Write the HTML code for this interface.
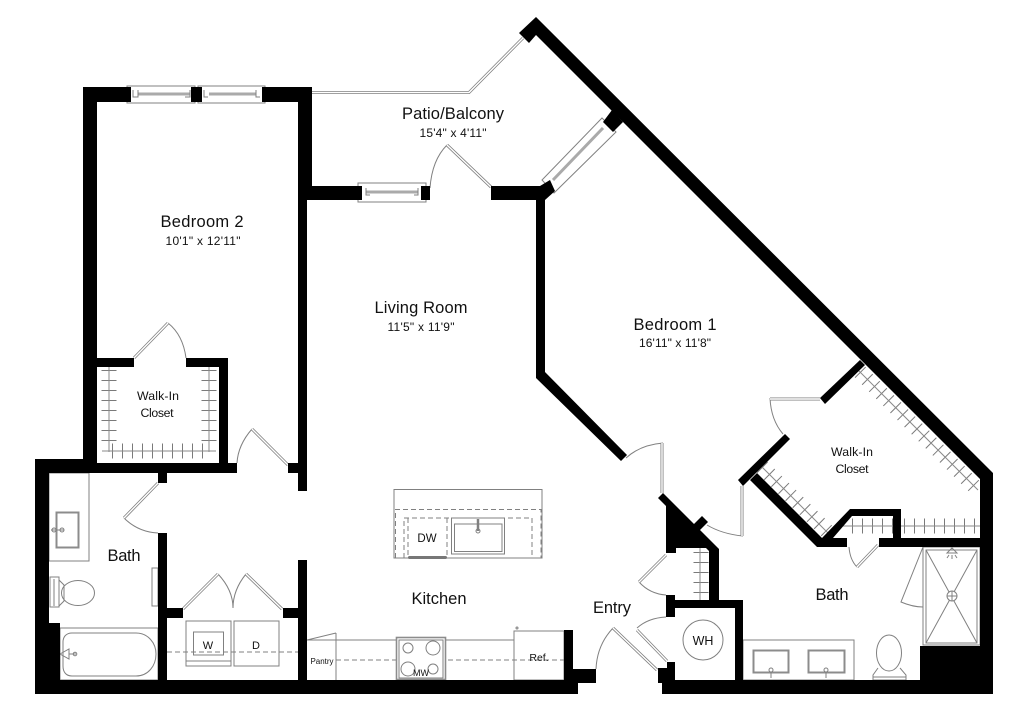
<!DOCTYPE html>
<html><head><meta charset="utf-8"><style>
html,body{margin:0;padding:0;background:#fff;width:1024px;height:714px;overflow:hidden}
svg{display:block}
text{font-family:"Liberation Sans",sans-serif;fill:#111;text-anchor:middle}
.t{stroke:#808080;stroke-width:1;fill:none}
.w{fill:#fff;stroke:#808080;stroke-width:1}
.d{stroke:#808080;stroke-width:1;fill:none;stroke-dasharray:5 3}
.r{stroke:#8a8a8a;stroke-width:1;fill:none}
.k{stroke:#7a7a7a;stroke-width:15;fill:none;stroke-dasharray:1 9}
.l1{stroke:#808080;stroke-width:3;fill:none}
.l2{stroke:#fff;stroke-width:1.4;fill:none}
</style></head><body>
<svg width="1024" height="714" viewBox="0 0 1024 714" xmlns="http://www.w3.org/2000/svg">
<rect width="1024" height="714" fill="#fff"/>

<!-- closet hangers -->
<path class="k" d="M109 370V450"/><path class="r" d="M109 367V452"/>
<path class="k" d="M209 370V450"/><path class="r" d="M209 367V452"/>
<path class="k" d="M112 451H208"/><path class="r" d="M102 451H216"/>
<path class="k" d="M860 372L978 490"/><path class="r" d="M858 370L978 490"/>
<path class="k" d="M762 467L830 534"/><path class="r" d="M760 465L831 536"/>
<path class="k" d="M904 526H980"/><path class="r" d="M901 526H980"/>
<path class="k" d="M852 526H893"/><path class="r" d="M838 526H893"/>
<path class="k" d="M701 552V600"/><path class="r" d="M700 548V600"/>

<!-- fixtures: bath left -->
<rect class="t" x="49" y="473" width="40" height="88"/>
<rect x="56.500" y="512.500" width="22" height="35" fill="none" stroke="#8c8c8c" stroke-width="2"/>
<path class="t" d="M51 530H64"/><circle class="t" cx="54" cy="530" r="2"/><circle class="t" cx="62" cy="530" r="2"/>
<ellipse class="t" cx="78" cy="593" rx="16.500" ry="12.500"/>
<rect class="t" x="50" y="577" width="9" height="30"/><path class="t" d="M59 580L64 585V601L59 606M54 579V606"/>
<rect x="152" y="568" width="6" height="38" class="w"/>
<rect class="t" x="60" y="628" width="98" height="52"/>
<path class="t" d="M72 633H136C148 633 156 643 156 654C156 666 148 676 136 676H72C66 676 63 672 63 666V642C63 637 66 633 72 633Z"/>
<path class="t" d="M60 654L69 649V659ZM69 654H76"/><circle class="t" cx="75" cy="654" r="1.800"/>

<!-- laundry -->
<rect class="t" x="186" y="621" width="45" height="45"/><rect class="t" x="193.500" y="632" width="30" height="23"/><path class="t" d="M186 661H231"/>
<rect class="t" x="234" y="621" width="45" height="45"/>
<path class="d" d="M167 652H298"/>

<!-- kitchen -->
<path class="t" d="M307 640H514M336 633V680M307 640L336 633"/>
<path class="d" d="M336 660H564"/>
<rect class="t" x="514" y="631" width="50" height="49"/>
<circle class="t" cx="517" cy="628" r="1"/>
<rect x="396.500" y="637.500" width="49" height="42" fill="#fff" stroke="#8c8c8c" stroke-width="1.600"/>
<rect class="t" x="399" y="640" width="44" height="38"/>
<circle class="t" cx="408" cy="648" r="5"/><circle class="t" cx="433" cy="648" r="7"/><circle class="t" cx="408" cy="669" r="7"/><circle class="t" cx="433" cy="669" r="5"/>
<rect class="t" x="394" y="489.500" width="148" height="68.500"/>
<path class="d" d="M395.500 558V509.500H541V558M404 558V518H532V558M408 518V557M447 518V557"/>
<rect x="451.500" y="518" width="53" height="36" fill="#fff" stroke="#808080"/>
<rect x="454.500" y="524" width="47.500" height="27.500" fill="none" stroke="#808080"/>
<path d="M478 519V531" stroke="#808080" stroke-width="2.500"/><circle class="t" cx="478" cy="531" r="2"/>
<rect x="408" y="556" width="39" height="3" rx="1.500" fill="#777"/>

<!-- bath right -->
<rect class="t" x="743" y="640" width="111" height="40"/>
<rect x="753.500" y="650.500" width="35" height="22" fill="none" stroke="#8c8c8c" stroke-width="2"/>
<rect x="808.500" y="650.500" width="36" height="22" fill="none" stroke="#8c8c8c" stroke-width="2"/>
<path class="t" d="M771 672V678M826 672V678"/><circle class="t" cx="771" cy="670" r="2"/><circle class="t" cx="826" cy="670" r="2"/>
<ellipse class="t" cx="889" cy="653" rx="12.500" ry="18"/>
<path class="t" d="M878 668L873 675V680H906V675L900 668M873 677H906"/>
<rect class="w" x="923" y="547" width="57" height="98"/>
<rect class="t" x="926" y="550" width="51" height="93"/>
<path class="t" d="M926 550L977 643M977 550L926 643"/>
<circle class="w" cx="952" cy="596" r="5"/><path class="t" d="M947 596H957M952 591V601"/>
<path class="t" d="M947 553L952 548L957 553ZM949 555L947 558M952 555V559M955 555L957 558"/>
<path class="t" d="M923 547L901 602C908 605 915 607 923 607"/>
<circle class="t" cx="703" cy="640" r="20"/>

<!-- windows -->
<rect class="t" x="127" y="86" width="68" height="17"/><rect class="t" x="198" y="86" width="67" height="17"/>
<rect class="t" x="358" y="183" width="68" height="19"/>
<path d="M138 94H190M209 94H256M366 192H418" stroke="#aaa" stroke-width="3" fill="none"/>
<path class="t" d="M133 90V97H138V90M190 90V97H185M204 90V97H208M256 90V97H260M366 188V195H370M418 188V195H414"/>
<path class="t" d="M602 118L616 132L554 193L542 180Z"/>
<path d="M603 128L553 180" stroke="#aaa" stroke-width="3"/>

<!-- patio rail -->
<path class="l1" d="M312 92.500H469L523 38"/><path class="l2" d="M312 92.500H469L523 38"/>

<!-- door arcs -->
<path class="t" d="M447 145Q432 160 430 188"/>
<path class="t" d="M168 323Q183 335 186 358"/>
<path class="t" d="M252 429Q238 445 237 463"/>
<path class="t" d="M124 518Q138 532 158 533"/>
<path class="t" d="M218 574Q233 590 233 608"/>
<path class="t" d="M246 574Q233 590 233 608"/>
<path class="t" d="M613 628Q597 645 596 669"/>
<path class="t" d="M637 628Q648 618 666 617"/>
<path class="t" d="M639 582Q650 594 666 595"/>
<path class="t" d="M663 443Q640 445 626 458"/>
<path class="t" d="M743 536Q722 534 707 525"/>
<path class="t" d="M770 398Q771 420 783 434"/>
<path class="t" d="M849 547Q850 560 857 567"/>

<!-- door leaves -->
<path class="l1" d="M491 187L447 145M134 358L168 323M288 465L252 429M158 483L124 518M183 609L218 574M282 609L246 574M657 670L613 628M667 661L637 630M666 555L639 582M662 443V493M742 486V536M820 399H770M878 545L857 567"/>
<path class="l2" d="M491 187L447 145M134 358L168 323M288 465L252 429M158 483L124 518M183 609L218 574M282 609L246 574M657 670L613 628M667 661L637 630M666 555L639 582M662 443V493M742 486V536M820 399H770M878 545L857 567"/>

<!-- walls -->
<g fill="#000">
<path d="M83 87H131V102H97V459H83Z"/>
<rect x="191" y="87" width="11" height="15"/>
<path d="M262 87H312V186H362V200H307V491H298V102H262Z"/>
<rect x="421" y="186" width="9" height="14"/>
<rect x="491" y="186" width="50" height="14"/>
<path d="M540 186L550 180L555 191L545 200H536Z"/>
<path d="M536 196H545V372L627 455L621 461L536 378Z"/>
<path d="M536 17L993 473V694H662V680H980V479L536 35L529 43L519 33Z"/>
<path d="M612 110L623 122L613 132L603 122Z"/>
<path d="M35 459H97V463H219V358H228V463H237V473H167V483H158V473H49V680H35Z"/>
<path d="M97 358H134V367H97Z"/>
<path d="M186 358H228V367H186Z"/>
<rect x="288" y="463" width="10" height="10"/>
<path d="M158 533H167V680H158Z"/>
<rect x="167" y="608" width="16" height="10"/>
<rect x="283" y="608" width="15" height="10"/>
<rect x="298" y="560" width="9" height="120"/>
<rect x="49" y="623" width="11" height="57"/>
<rect x="35" y="680" width="543" height="14"/>
<rect x="564" y="630" width="9" height="50"/>
<rect x="573" y="669" width="23" height="14"/>
<rect x="666" y="595" width="9" height="22"/>
<rect x="667" y="662" width="8" height="18"/>
<rect x="658" y="668" width="9" height="15"/>
<rect x="662" y="680" width="14" height="14"/>
<path d="M675 600H743V680H735V608H675Z"/>
<path d="M658 498L663 493L719 549V600H709V551L706 548H676V553H666V506Z"/>
<path d="M693 525L702 516L708 522L699 531Z"/>
<path d="M860 360L865 365L825 404L820 398Z"/>
<path d="M785 434L790 439L743 486L738 480Z"/>
<path d="M757 473L750 480L817 547H847V538H833L852 516H893V538H879V547H980V538H901V509H850L822 538Z"/>
<rect x="920" y="646" width="60" height="34"/>
</g>

<!-- labels -->
<text x="453" y="119" font-size="16.500" textLength="102">Patio/Balcony</text>
<text x="453" y="137" font-size="12" textLength="67">15'4" x 4'11"</text>
<text x="202" y="227" font-size="16.500" textLength="83">Bedroom 2</text>
<text x="203" y="245" font-size="12" textLength="75">10'1" x 12'11"</text>
<text x="421" y="313" font-size="16.500" textLength="93">Living Room</text>
<text x="421" y="331" font-size="12" textLength="67">11'5" x 11'9"</text>
<text x="675" y="330" font-size="16.500" textLength="83">Bedroom 1</text>
<text x="675" y="347" font-size="12" textLength="72">16'11" x 11'8"</text>
<text x="158" y="400" font-size="12.300" textLength="42">Walk-In</text>
<text x="157" y="417" font-size="12.300" textLength="33">Closet</text>
<text x="852" y="456" font-size="12.300" textLength="42">Walk-In</text>
<text x="852" y="473" font-size="12.300" textLength="33">Closet</text>
<text x="124" y="561" font-size="16.500" textLength="33">Bath</text>
<text x="832" y="600" font-size="16.500" textLength="33">Bath</text>
<text x="439" y="604" font-size="16.500" textLength="55">Kitchen</text>
<text x="612" y="613" font-size="16.500" textLength="38">Entry</text>
<text x="427" y="542" font-size="11.500">DW</text>
<text x="208" y="649" font-size="11">W</text>
<text x="256" y="649" font-size="11">D</text>
<text x="322" y="664" font-size="8">Pantry</text>
<text x="421" y="676" font-size="9">MW</text>
<text x="539" y="661" font-size="10.500">Ref.</text>
<text x="703" y="645" font-size="12.500">WH</text>
</svg>
</body></html>
